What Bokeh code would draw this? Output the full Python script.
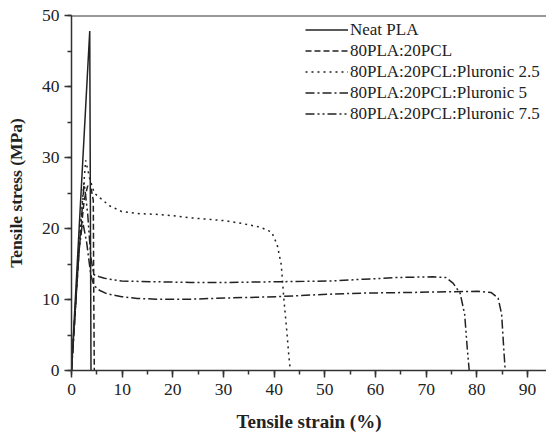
from bokeh.plotting import figure
from bokeh.models import Span, Legend, LegendItem, SingleIntervalTicker, Range1d
from bokeh.embed import file_html
from bokeh.resources import INLINE

# --- data ---
neat_x = [0, 3.6, 3.85]
neat_y = [0, 47.8, 0]

pcl_x = [0, 1.5, 2.5, 3.2, 3.9, 4.3, 4.4, 4.5]
pcl_y = [0, 17, 24, 26, 25.5, 24, 10, 0]

p25_x = [0, 1.5, 2.8, 3.6, 4.5, 5.8, 7.5, 9.9, 13, 16.7, 20, 23.5, 27, 30.3, 33.7, 37.2, 39.5, 40.6, 41.4, 41.9, 42.5, 42.9, 43.2]
p25_y = [0, 18, 29.6, 27, 25, 24.2, 23.2, 22.4, 22.1, 22.0, 21.8, 21.5, 21.3, 21.1, 20.7, 20.2, 19.5, 17.7, 14.9, 10.2, 5.5, 2, 0]

p5_x = [0, 1.5, 2.2, 3.0, 3.8, 4.4, 5.5, 7, 9.9, 13, 16.7, 23.5, 30.3, 40.6, 50.8, 57.6, 67.8, 74.6, 80.1, 82.8, 84.2, 84.9, 85.3, 85.6]
p5_y = [0, 17, 21, 18, 13.5, 12.0, 11.3, 10.8, 10.4, 10.15, 10.05, 10.05, 10.2, 10.4, 10.75, 10.9, 11.0, 11.1, 11.15, 11.0, 10.2, 7.9, 3.2, 0]

p75_x = [0, 1.5, 2.5, 3.2, 3.8, 4.4, 5.5, 6.5, 8, 9.9, 16.7, 23.5, 30.3, 40.6, 50.8, 57.6, 64.4, 71.2, 73.9, 75.3, 76.7, 77.6, 78.1, 78.5]
p75_y = [0, 17, 26.5, 22, 16, 13.5, 13.2, 13.0, 12.8, 12.6, 12.5, 12.4, 12.4, 12.5, 12.6, 12.85, 13.1, 13.2, 13.1, 12.3, 10.9, 7.9, 3.2, 0]

labels = ["Neat PLA", "80PLA:20PCL", "80PLA:20PCL:Pluronic 2.5",
          "80PLA:20PCL:Pluronic 5", "80PLA:20PCL:Pluronic 7.5"]

FONT = "Liberation Serif"
INK = "#222222"

p = figure(width=546, height=434, output_backend="svg", toolbar_location=None,
           x_range=Range1d(0, 93.75), y_range=Range1d(0, 50),
           min_border_left=71, min_border_right=0, min_border_top=15, min_border_bottom=63)
p.outline_line_color = None
p.xgrid.visible = False
p.ygrid.visible = False
p.background_fill_color = "white"
p.border_fill_color = "white"

series = [
    (neat_x, neat_y, "solid"),
    (pcl_x, pcl_y, "6 3"),
    (p25_x, p25_y, "2 4"),
    (p5_x, p5_y, "9 3 2 3"),
    (p75_x, p75_y, "9 3 2 3 2 3"),
]
items = []
for (xs, ys, dash), lab in zip(series, labels):
    r = p.line(xs, ys, line_color=INK, line_width=1.5, line_dash=dash)
    items.append(LegendItem(label=lab, renderers=[r]))

top = Span(location=50, dimension="width", line_color="#333333", line_width=2)
p.add_layout(top)

for ax in (p.xaxis[0], p.yaxis[0]):
    ax.ticker = SingleIntervalTicker(interval=10, num_minor_ticks=2)
    ax.axis_line_color = "#333333"
    ax.axis_line_width = 1.5
    ax.major_tick_line_color = "#333333"
    ax.minor_tick_line_color = "#333333"
    ax.major_tick_line_width = 1.5
    ax.minor_tick_line_width = 1.5
    ax.major_tick_in = 0
    ax.minor_tick_in = 0
    ax.major_tick_out = 7
    ax.minor_tick_out = 4
    ax.major_label_text_font = FONT
    ax.major_label_text_font_size = "17.5px"
    ax.major_label_text_color = INK
    ax.axis_label_text_font = FONT
    ax.axis_label_text_font_style = "bold"
    ax.axis_label_text_color = INK

p.xaxis.axis_label = "Tensile strain (%)"
p.yaxis.axis_label = "Tensile stress (MPa)"
p.xaxis.axis_label_text_font_size = "19px"
p.yaxis.axis_label_text_font_size = "17.5px"
p.xaxis.major_label_standoff = 6
p.xaxis.axis_label_standoff = 13
p.yaxis.major_label_standoff = 5
p.yaxis.axis_label_standoff = 13

legend = Legend(items=items, location=(234, 246))
legend.label_text_font = FONT
legend.label_text_font_size = "17px"
legend.label_text_color = INK
legend.label_height = 21
legend.glyph_height = 21
legend.glyph_width = 43
legend.label_standoff = 2
legend.spacing = 0
legend.padding = 0
legend.margin = 0
legend.border_line_color = None
legend.background_fill_alpha = 0
p.add_layout(legend)

open("out.html", "w").write(file_html(p, INLINE))
